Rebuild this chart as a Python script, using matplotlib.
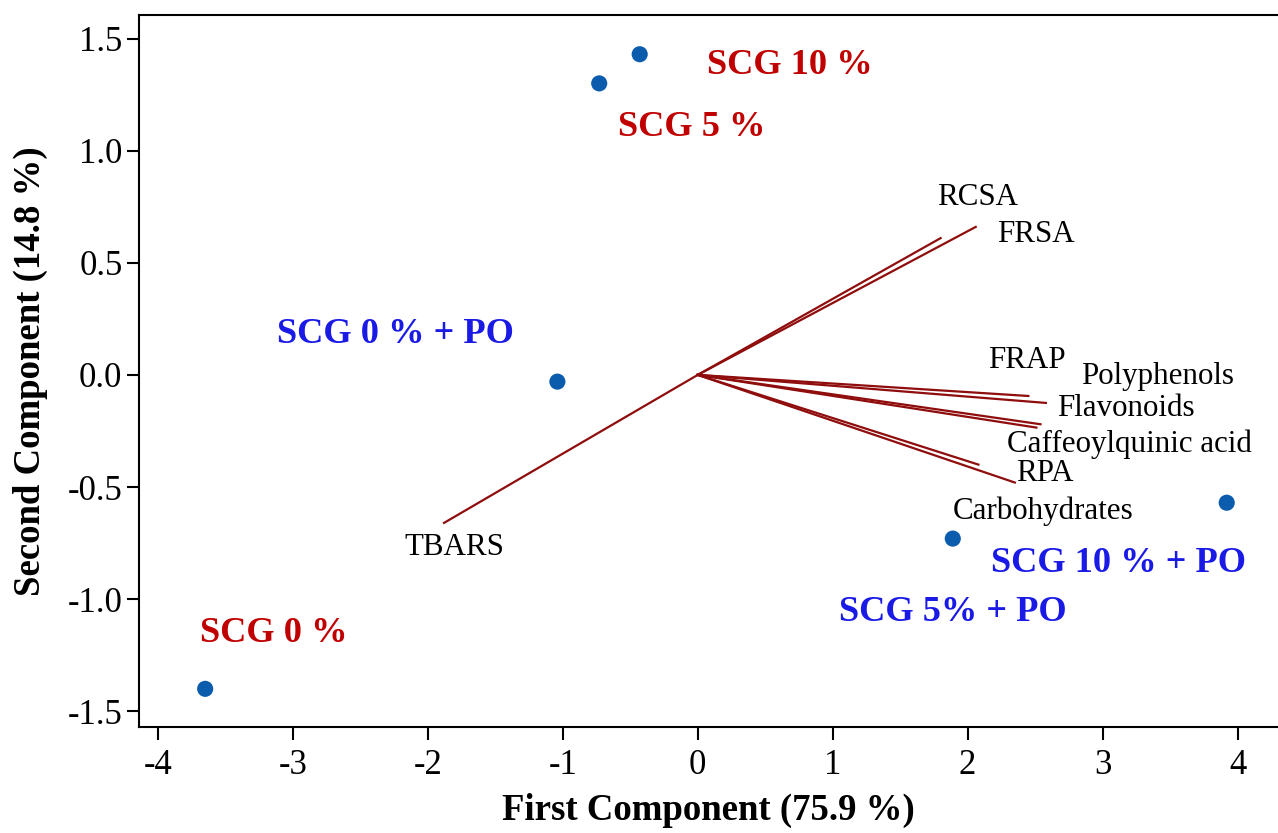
import numpy as np
import matplotlib.pyplot as plt

# sample scores (PC1, PC2)
SAMPLES = ["SCG 0 %", "SCG 0 % + PO", "SCG 5 %", "SCG 10 %", "SCG 5% + PO", "SCG 10 % + PO"]
PC1_SCORE = [-3.65, -1.04, -0.73, -0.43, 1.89, 3.92]
PC2_SCORE = [-1.40, -0.03, 1.30, 1.43, -0.73, -0.57]
SAMPLE_COLOR = ["#c00000", "#1a1ae6", "#c00000", "#c00000", "#1a1ae6", "#1a1ae6"]
# where each sample label sits (left edge, vertical centre)
SAMPLE_LABEL_X = [-3.69, -3.12, -0.59, 0.07, 1.05, 2.17]
SAMPLE_LABEL_Y = [-1.155, 0.18, 1.105, 1.38, -1.06, -0.84]

# variable loadings (scaled)
VARIABLES = ["RCSA", "FRSA", "FRAP", "Polyphenols", "Flavonoids",
             "Caffeoylquinic acid", "RPA", "Carbohydrates", "TBARS"]
LOAD_PC1 = [1.80, 2.06, 2.45, 2.58, 2.54, 2.51, 2.35, 2.08, -1.88]
LOAD_PC2 = [0.61, 0.66, -0.094, -0.125, -0.22, -0.235, -0.48, -0.40, -0.66]
VAR_LABEL_X = [1.77, 2.22, 2.15, 2.84, 2.66, 2.29, 2.36, 1.89, -2.17]
VAR_LABEL_Y = [0.79, 0.625, 0.062, -0.005, -0.15, -0.31, -0.44, -0.61, -0.77]

plt.rcParams['font.family'] = ['Liberation Serif', 'DejaVu Serif']

fig = plt.figure(figsize=(12.78, 8.33), dpi=100)
ax = fig.add_axes([0.1088, 0.1273, 0.8912, 0.8547])

# loading lines from origin
for lx, ly in zip(LOAD_PC1, LOAD_PC2):
    ax.plot([0, lx], [0, ly], color="#8f0d0d", linewidth=1.6, zorder=2)

for name, tx, ty in zip(VARIABLES, VAR_LABEL_X, VAR_LABEL_Y):
    ax.text(tx, ty, name, fontsize=22.3, ha="left", va="center", color="black")

ax.scatter(PC1_SCORE, PC2_SCORE, s=135, color="#0b5cad", zorder=3, edgecolors="none")

for name, tx, ty, c in zip(SAMPLES, SAMPLE_LABEL_X, SAMPLE_LABEL_Y, SAMPLE_COLOR):
    ax.text(tx, ty, name, fontsize=26.2, fontweight="bold", ha="left", va="center", color=c)

ax.set_xlim(-4.14, 4.30)
ax.set_ylim(-1.57, 1.605)
ax.set_xticks([-4, -3, -2, -1, 0, 1, 2, 3, 4])
ax.set_yticks([-1.5, -1.0, -0.5, 0.0, 0.5, 1.0, 1.5])
ax.set_yticklabels(["-1.5", "-1.0", "-0.5", "0.0", "0.5", "1.0", "1.5"])
ax.set_xticklabels([str(v) for v in [-4, -3, -2, -1, 0, 1, 2, 3, 4]])

ax.spines["right"].set_visible(False)
for s in ["left", "top", "bottom"]:
    ax.spines[s].set_linewidth(1.5)
ax.tick_params(direction="out", length=9, width=1.5, labelsize=25)
ax.tick_params(axis="y", pad=3)
ax.tick_params(axis="x", pad=7)

ax.set_xlabel("First Component (75.9 %)", fontsize=26.5, fontweight="bold", labelpad=8)
ax.set_ylabel("Second Component (14.8 %)", fontsize=26.5, fontweight="bold", labelpad=14)

fig.savefig("out.png", dpi=100)
